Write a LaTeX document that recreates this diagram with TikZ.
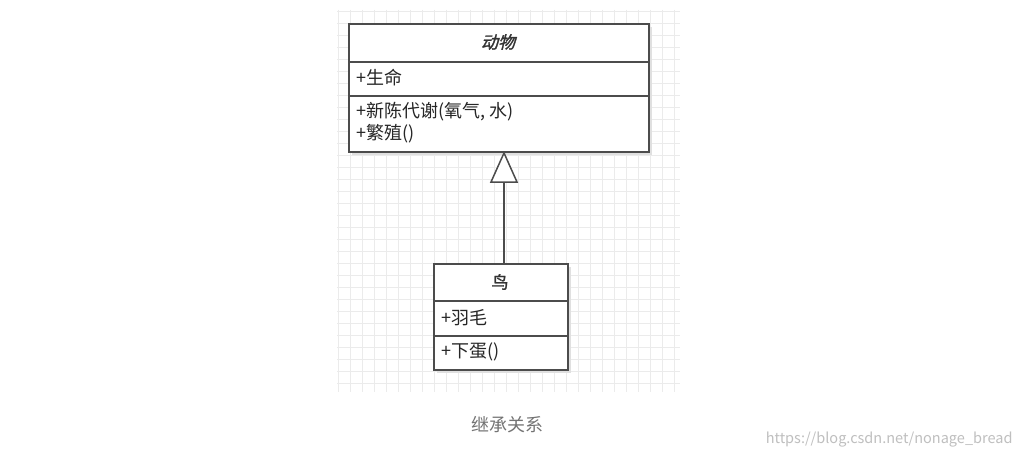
\documentclass[tikz,border=0pt]{standalone}
\usepackage{fontspec}
\setmainfont{Noto Sans CJK SC}
\newfontfamily\cjkit[FakeSlant=0.25,FakeBold=1.5]{Noto Sans CJK SC}
\newfontfamily\cjkbf[FakeBold=1.5]{Noto Sans CJK SC}
\begin{document}
\begin{tikzpicture}[x=1pt,y=-1pt,
  boxline/.style={draw=black!70,line width=2pt},
  sep/.style={draw=black!70,line width=1.6pt},
  txt/.style={anchor=west,inner sep=0pt,font=\fontsize{18}{20}\selectfont,text=black!85}]
\useasboundingbox (0,0) rectangle (1024,457);
\fill[white] (0,0) rectangle (1024,457);
\foreach \gx in {338,350,...,680} \draw[black!8,line width=0.6pt] (\gx,10) -- (\gx,392);
\foreach \gy in {11,23,...,392} \draw[black!8,line width=0.6pt] (337,\gy) -- (680,\gy);
% animal
\fill[black!12] (352,27) rectangle (652,155);
\node[boxline,fill=white,minimum width=300,minimum height=128,inner sep=0pt,anchor=north west] (animal) at (348,23) {};
\draw[sep] (348,62) -- (648,62);
\draw[sep] (348,96) -- (648,96);
\node[font=\fontsize{17}{19}\selectfont\cjkit,text=black!80] (atitle) at (498,42) {动物};
\node[txt] (alife) at (356,78) {+生命};
\node[txt] (ameta) at (356,112) {+新陈代谢(氧气, 水)};
\node[txt] (arep) at (356,134) {+繁殖()};
% bird
\fill[black!12] (437,267) rectangle (571,373);
\node[boxline,fill=white,minimum width=134,minimum height=106,inner sep=0pt,anchor=north west] (bird) at (433,263) {};
\draw[sep] (433,301) -- (567,301);
\draw[sep] (433,336) -- (567,336);
\node[font=\fontsize{17}{19}\selectfont\cjkbf,text=black!80] (btitle) at (500,282) {鸟};
\node[txt] (bfeather) at (441,318) {+羽毛};
\node[txt] (begg) at (441,352) {+下蛋()};
% inheritance
\coordinate (tip) at (animal.south -| 504,0);
\coordinate (base) at (504,182);
\draw[black!70,line width=2pt] (bird.north -| base) -- (base);
\draw[black!70,line width=1.5pt,fill=white] (tip) -- (517,182) -- (491,182) -- cycle;
% caption
\node[font=\fontsize{18}{20}\selectfont,text=black!55] (cap) at (507,425) {继承关系};
\node[font=\fontsize{14.5}{16}\selectfont,text=black!25,anchor=east] (wm) at (1016,440) {https://blog.csdn.net/nonage\_bread};
\end{tikzpicture}
\end{document}
